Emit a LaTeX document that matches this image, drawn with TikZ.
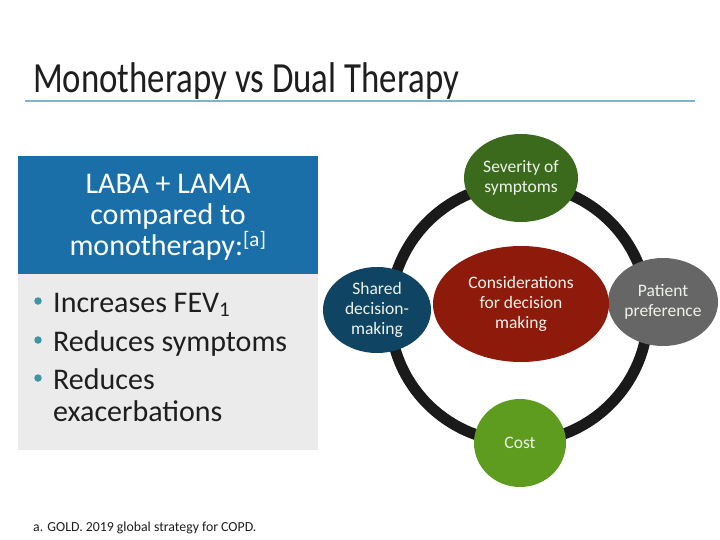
\documentclass[tikz,border=0pt]{standalone}
\usepackage{fontspec}
\setmainfont{Carlito}
\usetikzlibrary{shapes.geometric}
\definecolor{hdrblue}{HTML}{1A6FA8}
\definecolor{bodygray}{HTML}{EBEBEB}
\definecolor{rulecol}{HTML}{7DB5C8}
\definecolor{bulletcol}{HTML}{3F95A3}
\definecolor{sevgreen}{HTML}{3B6A1C}
\definecolor{costgreen}{HTML}{5E9C1F}
\definecolor{patgray}{HTML}{666666}
\definecolor{sharedblue}{HTML}{0F4563}
\definecolor{conred}{HTML}{8E1A0C}
\definecolor{ringcol}{HTML}{1A1A1A}
\definecolor{txtcol}{HTML}{1E1E1E}
\definecolor{elltxt}{HTML}{EEF2EA}
\tikzset{
  ell/.style={ellipse, inner sep=0pt, text=elltxt, align=center,
    font=\fontsize{17.5}{20}\selectfont},
  bul/.style={anchor=base west, text=txtcol, inner sep=0pt,
    font=\fontsize{30}{32}\selectfont},
  dot/.style={circle, fill=bulletcol, inner sep=0pt, minimum size=7.5pt}
}
\begin{document}
\begin{tikzpicture}[x=1pt,y=-1pt]
\useasboundingbox[fill=white] (0,0) rectangle (720,540);
% title
\node[anchor=base west, inner sep=0pt, text=txtcol] (title) at (33,93)
  {\scalebox{0.81}[1]{\fontsize{43}{46}\selectfont Monotherapy vs Dual Therapy}};
\draw[rulecol, line width=1.5pt] (25,101) -- (695,101);
% left panel
\fill[hdrblue] (18,156) rectangle (318,274);
\fill[bodygray] (18,274) rectangle (318,450);
\node[text=white, align=center, font=\fontsize{30}{31}\selectfont, inner sep=0pt] (hdr) at (168,217)
  {LABA + LAMA\\compared to\\monotherapy:\textsuperscript{[a]}};
\node[bul] (b1) at (53,312) {Increases FEV\textsubscript{1}};
\node[bul] (b2) at (53,351) {Reduces symptoms};
\node[bul] (b3) at (53,389) {Reduces};
\node[bul] (b3b) at (53,421) {exacerbations};
\node[dot] (d1) at (38,301) {};
\node[dot] (d2) at (38,340) {};
\node[dot] (d3) at (38,378) {};
% ring
\draw[ringcol, line width=11pt] (519,313) circle[radius=129];
% ellipses
\node[ell, fill=sevgreen, minimum width=114pt, minimum height=88pt] (sev) at (521,178) {Severity of\\symptoms};
\node[ell, fill=patgray, minimum width=110pt, minimum height=88pt] (pat) at (663,302) {Patient\\preference};
\node[ell, fill=costgreen, minimum width=92pt, minimum height=88pt] (cost) at (520,443) {Cost};
\node[ell, fill=sharedblue, minimum width=108pt, minimum height=86pt] (shr) at (377,310) {Shared\\decision-\\making};
\node[ell, fill=conred, minimum width=176pt, minimum height=116pt] (con) at (521,304) {Considerations\\for decision\\making};
% footnote
\node[anchor=base west, inner sep=0pt, text=txtcol, font=\fontsize{13.8}{15}\selectfont] (foot) at (33,531)
  {a. GOLD. 2019 global strategy for COPD.};
\end{tikzpicture}
\end{document}
